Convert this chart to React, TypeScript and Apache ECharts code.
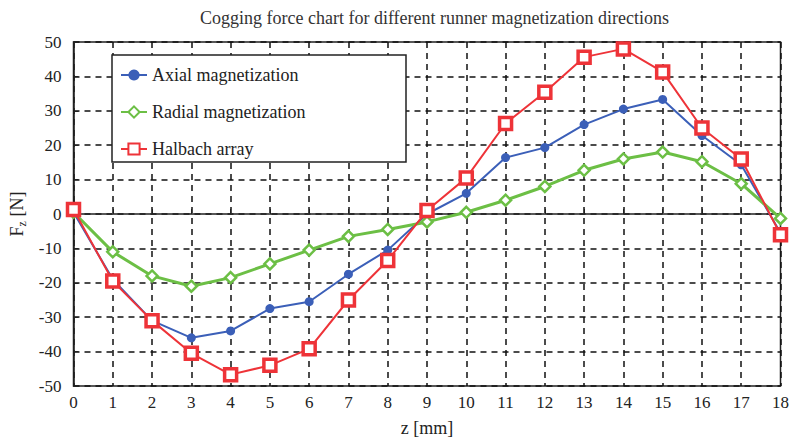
import React, { useEffect, useRef } from "react";
import * as echarts from "echarts";

const zValues = [0, 1, 2, 3, 4, 5, 6, 7, 8, 9, 10, 11, 12, 13, 14, 15, 16, 17, 18];
const axialMag = [0.5, -19, -31, -36, -34, -27.5, -25.5, -17.5, -10.5, 0, 6, 16.4, 19.3, 26, 30.5, 33.3, 22.8, 14.3, -5.5];
const radialMag = [0.5, -11, -18, -21, -18.5, -14.5, -10.5, -6.5, -4.5, -2.3, 0.5, 4, 8, 12.7, 16, 18, 15.2, 8.8, -1.3];
const halbach = [1.3, -19.5, -31, -40.5, -46.7, -44, -39.2, -25, -13.5, 1, 10.5, 26.3, 35.4, 45.6, 48, 41.3, 25, 16, -6];
const seriesNames = ["Axial magnetization", "Radial magnetization", "Halbach array"];
const titleText = "Cogging force chart for different runner magnetization directions";

const FONT = "Liberation Serif";

export default function App() {
  const ref = useRef<HTMLDivElement>(null);
  useEffect(() => {
    if (!ref.current) return;
    const chart = echarts.init(ref.current, null, { renderer: "svg" });
    const pair = (ys: number[]) => zValues.map((x, i) => [x, ys[i]]);
    const plotLeft = 70, plotRight = 789, plotTop = 42, plotBottom = 391;
    chart.setOption({
      animation: false,
      backgroundColor: "#fff",
      textStyle: { fontFamily: FONT },
      title: {
        text: titleText,
        left: (plotLeft + plotRight) / 2,
        textAlign: "center",
        top: 4,
        textStyle: { fontFamily: FONT, fontSize: 18, fontWeight: "normal", color: "#333" },
      },
      grid: {
        left: plotLeft,
        right: 792 - plotRight,
        top: plotTop,
        bottom: 442 - plotBottom,
        show: true,
        borderColor: "#222",
        borderWidth: 1.5,
        backgroundColor: "transparent",
      },
      xAxis: {
        type: "value",
        min: 0,
        max: 18,
        interval: 1,
        name: "z [mm]",
        nameLocation: "middle",
        nameGap: 33,
        nameTextStyle: { fontFamily: FONT, fontSize: 18, color: "#222" },
        axisLine: { show: true, lineStyle: { color: "#222", width: 1.5 } },
        axisTick: { show: true, inside: true, length: 5, lineStyle: { color: "#222" } },
        axisLabel: { fontFamily: FONT, fontSize: 17, color: "#222", margin: 8 },
        splitLine: { show: true, lineStyle: { color: "#111", width: 1.5, type: [6, 5] } },
      },
      yAxis: {
        type: "value",
        min: -50,
        max: 50,
        interval: 10,
        name: "{a|F}{s|z}{a| [N]}",
        nameLocation: "middle",
        nameGap: 46,
        nameRotate: 90,
        nameTextStyle: {
          fontFamily: FONT,
          color: "#222",
          rich: {
            a: { fontFamily: FONT, fontSize: 18, color: "#222" },
            s: { fontFamily: FONT, fontSize: 12, color: "#222", padding: [9, 0, 0, 0] },
          },
        },
        axisLine: { show: true, lineStyle: { color: "#222", width: 1.5 } },
        axisTick: { show: true, inside: true, length: 5, lineStyle: { color: "#222" } },
        axisLabel: {
          fontFamily: FONT,
          fontSize: 17,
          color: "#222",
          margin: 12,
          formatter: (v: number) => String(v).replace("\u2212", "-"),
        },
        splitLine: { show: true, lineStyle: { color: "#111", width: 1.5, type: [6, 5] } },
      },
      legend: {
        orient: "vertical",
        left: 115,
        top: 61,
        itemWidth: 26,
        itemHeight: 14,
        itemGap: 19,
        z: 10,
        textStyle: { fontFamily: FONT, fontSize: 18, color: "#222" },
        data: seriesNames,
      },
      graphic: [
        {
          type: "rect",
          z: 8,
          shape: { x: 112, y: 55, width: 294, height: 107 },
          style: { fill: "#fff", stroke: "#222", lineWidth: 1.5 },
        },
      ],
      series: [
        {
          name: seriesNames[0],
          type: "line",
          data: pair(axialMag),
          color: "#3b5fb8",
          symbol: "circle",
          symbolSize: 9,
          lineStyle: { width: 2, color: "#3b5fb8" },
          itemStyle: { color: "#3b5fb8" },
          z: 3,
        },
        {
          name: seriesNames[1],
          type: "line",
          data: pair(radialMag),
          color: "#6cbf45",
          symbol: "diamond",
          symbolSize: 11,
          lineStyle: { width: 3, color: "#6cbf45" },
          itemStyle: { color: "#fff", borderColor: "#6cbf45", borderWidth: 2.5 },
          z: 4,
        },
        {
          name: seriesNames[2],
          type: "line",
          data: pair(halbach),
          color: "#ee3338",
          symbol: "rect",
          symbolSize: 12,
          lineStyle: { width: 2, color: "#ee3338" },
          itemStyle: { color: "#fff", borderColor: "#ee3338", borderWidth: 3.5 },
          z: 5,
        },
      ],
    });
    return () => chart.dispose();
  }, []);
  return (
    <div
      ref={ref}
      style={{ position: "absolute", left: 0, top: 0, width: 792, height: 442 }}
    />
  );
}
